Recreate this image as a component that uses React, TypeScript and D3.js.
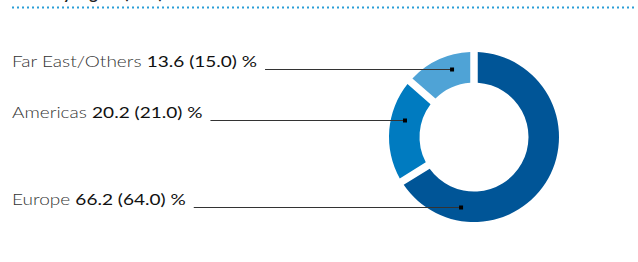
import React, { useEffect, useRef } from 'react';
import * as d3 from 'd3';

// regions in clockwise order from 12 o'clock
const regions = ['Europe', 'Americas', 'Far East/Others'];
const shares = [66.2, 20.2, 13.6];
const prevShares = ['64.0', '21.0', '15.0'];
const shareLabels = ['66.2', '20.2', '13.6'];
const colors = ['#005597', '#007bc0', '#4fa3d6'];
// where each leader line meets the ring (degrees, clockwise from top)
const anchorAngles = [190.5, 283.6, 342];

const W = 638;
const H = 262;

const App = () => {
  const ref = useRef<SVGSVGElement>(null);

  useEffect(() => {
    const svg = d3.select(ref.current);
    svg.selectAll('*').remove();

    const cx = 474;
    const cy = 137;
    const outer = 85;
    const inner = 54.5;
    const mid = 71;
    // the original face is a wide geometric sans; stretch Lato to match
    const stretch = 1.19;

    // clipped heading above the dotted rule
    svg
      .append('text')
      .attr('x', 14)
      .attr('y', -1)
      .attr('font-family', 'Lato, sans-serif')
      .attr('font-weight', 700)
      .attr('font-size', 16)
      .attr('fill', '#222')
      .text('Sales by region (in %)');

    svg
      .append('line')
      .attr('x1', 12)
      .attr('x2', 634)
      .attr('y1', 7.5)
      .attr('y2', 7.5)
      .attr('stroke', '#2a9fd8')
      .attr('stroke-width', 2)
      .attr('stroke-dasharray', '2,3');

    const pie = d3
      .pie<number>()
      .sort(null)
      .value((d) => d);

    const arc = d3
      .arc<d3.PieArcDatum<number>>()
      .innerRadius(inner)
      .outerRadius(outer)
      .padRadius(100)
      .padAngle(0.075);

    const g = svg.append('g').attr('transform', `translate(${cx},${cy})`);

    g.selectAll('path')
      .data(pie(shares))
      .enter()
      .append('path')
      .attr('d', arc)
      .attr('fill', (d, i) => colors[i]);

    regions.forEach((name, i) => {
      const a = (anchorAngles[i] * Math.PI) / 180;
      const px = cx + mid * Math.sin(a);
      const py = cy - mid * Math.cos(a);
      const ly = Math.round(py) + 0.5;

      const t = svg
        .append('text')
        .attr('transform', `translate(12,${ly - 3}) scale(${stretch},1)`)
        .attr('font-family', 'Lato, sans-serif')
        .attr('font-size', 16);
      t.append('tspan').attr('font-weight', 300).attr('fill', '#333').text(name + ' ');
      t.append('tspan')
        .attr('font-weight', 400)
        .attr('fill', '#111')
        .text(`${shareLabels[i]} (${prevShares[i]}) %`);

      const end = 12 + stretch * (t.node() as SVGTextElement).getComputedTextLength();

      svg
        .append('line')
        .attr('x1', end + 8)
        .attr('x2', px)
        .attr('y1', ly)
        .attr('y2', ly)
        .attr('stroke', '#333')
        .attr('stroke-width', 1);

      svg
        .append('rect')
        .attr('x', px - 2)
        .attr('y', ly - 2)
        .attr('width', 4)
        .attr('height', 4)
        .attr('fill', '#000');
    });
  }, []);

  return (
    <svg
      ref={ref}
      width={W}
      height={H}
      style={{ position: 'absolute', left: 0, top: 0, display: 'block' }}
    />
  );
};

export default App;
